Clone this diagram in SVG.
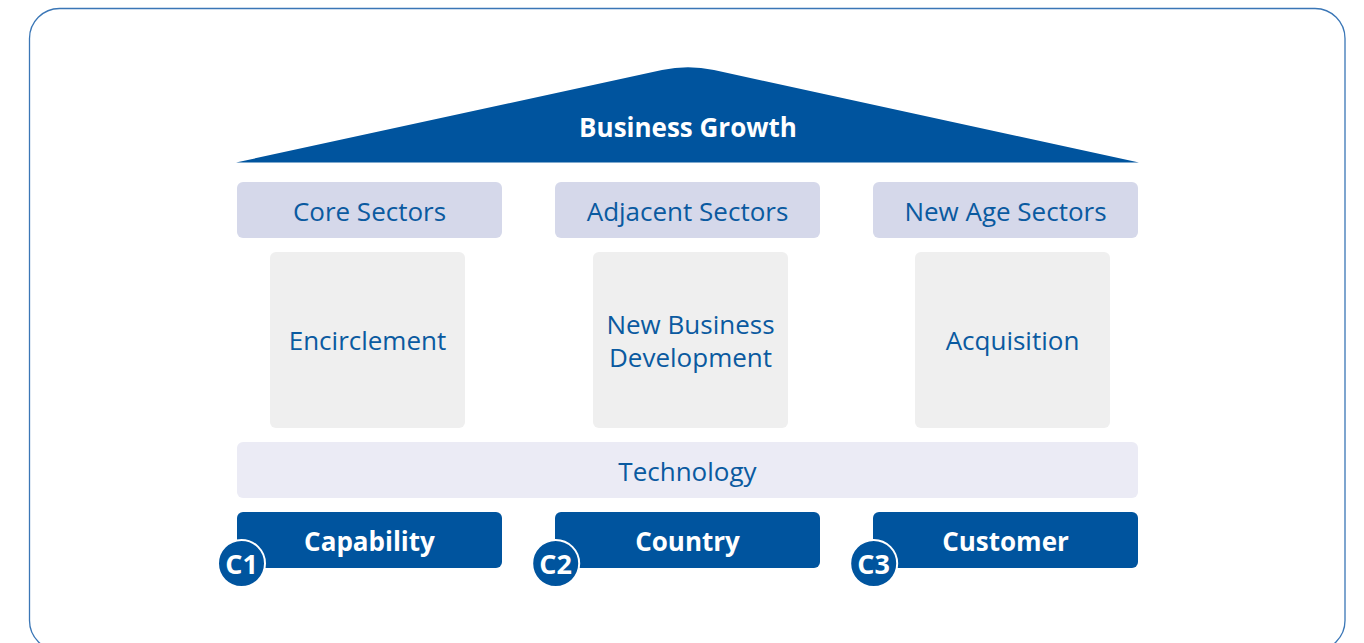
<svg xmlns="http://www.w3.org/2000/svg" width="1364" height="643" viewBox="0 0 1364 643">
<style>
.lbl{font-family:"Open Sans","Liberation Sans",sans-serif;font-size:26px;fill:#0a5aa0;text-anchor:middle}
.bold{font-family:"Open Sans","Liberation Sans",sans-serif;font-size:26px;font-weight:bold;fill:#ffffff;text-anchor:middle}
.tag{font-family:"Open Sans","Liberation Sans",sans-serif;font-size:27px;font-weight:bold;fill:#ffffff;text-anchor:middle}
.sector{fill:#d5d8ea}
.pillar{fill:#efefef}
.base{fill:#00549e}
.badge{fill:#00549e;stroke:#ffffff;stroke-width:2}
</style>
<rect x="29.5" y="8.5" width="1315.5" height="642" rx="30" ry="30" fill="#ffffff" stroke="#3a76b6" stroke-width="1.3"/>
<g id="roof">
<path d="M236,162.5 L662,70 Q688,64.3 714,70 L1139,162.5 Z" fill="#00549e"/>
<text class="bold" x="688" y="137">Business Growth</text>
</g>
<g id="core-sectors"><rect class="sector" x="237" y="182" width="265" height="56" rx="6"/><text class="lbl" x="369.5" y="220.5">Core Sectors</text></g>
<g id="adjacent-sectors"><rect class="sector" x="555" y="182" width="265" height="56" rx="6"/><text class="lbl" x="687.5" y="220.5">Adjacent Sectors</text></g>
<g id="new-age-sectors"><rect class="sector" x="873" y="182" width="265" height="56" rx="6"/><text class="lbl" x="1005.5" y="220.5">New Age Sectors</text></g>
<g id="encirclement"><rect class="pillar" x="270" y="252" width="195" height="176" rx="6"/><text class="lbl" x="367.5" y="350">Encirclement</text></g>
<g id="new-business-development"><rect class="pillar" x="593" y="252" width="195" height="176" rx="6"/><text class="lbl" x="690.5" y="334">New Business</text><text class="lbl" x="690.5" y="367">Development</text></g>
<g id="acquisition"><rect class="pillar" x="915" y="252" width="195" height="176" rx="6"/><text class="lbl" x="1012.5" y="350">Acquisition</text></g>
<g id="technology"><rect x="237" y="442" width="901" height="56" rx="6" fill="#ebebf5"/><text class="lbl" x="687.5" y="480.5">Technology</text></g>
<g id="capability"><rect class="base" x="237" y="512" width="265" height="56" rx="6"/><text class="bold" x="369.5" y="551">Capability</text><circle class="badge" cx="241.5" cy="563.5" r="23.5"/><text class="tag" x="241.5" y="573.5">C1</text></g>
<g id="country"><rect class="base" x="555" y="512" width="265" height="56" rx="6"/><text class="bold" x="687.5" y="551">Country</text><circle class="badge" cx="555.7" cy="563.5" r="23.5"/><text class="tag" x="555.7" y="573.5">C2</text></g>
<g id="customer"><rect class="base" x="873" y="512" width="265" height="56" rx="6"/><text class="bold" x="1005.5" y="551">Customer</text><circle class="badge" cx="873.7" cy="563.5" r="23.5"/><text class="tag" x="873.7" y="573.5">C3</text></g>
<g id="connectors"></g>
</svg>
